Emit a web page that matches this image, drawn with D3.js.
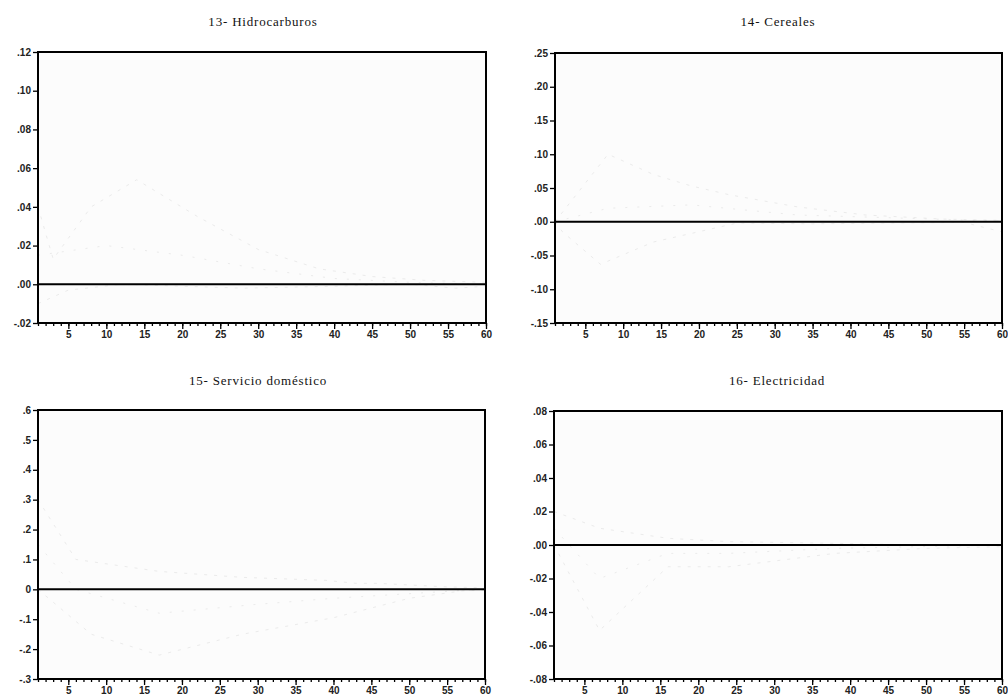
<!DOCTYPE html>
<html>
<head>
<meta charset="utf-8">
<script src="https://cdn.jsdelivr.net/npm/d3@7"></script>
<style>
  body { margin: 0; background: #fff; }
  svg { display: block; }
  .title { font-family: "Liberation Serif", "DejaVu Serif", serif; font-size: 13px; letter-spacing: 0.8px; fill: #111; }
  .axis text { font-family: "Liberation Sans", "DejaVu Sans", sans-serif; font-size: 10px; font-weight: bold; fill: #222; }
  .axis path { display: none; }
  .axis line { stroke: #000; stroke-width: 1.3; }
</style>
</head>
<body>
<svg id="chart" width="1008" height="700"></svg>
<script>
"use strict";

/* ── Data ────────────────────────────────────────────────── */
const titles = ["13- Hidrocarburos", "14- Cereales", "15- Servicio doméstico", "16- Electricidad"];

const xTicksMajor = [5, 10, 15, 20, 25, 30, 35, 40, 45, 50, 55, 60];

// y tick values / labels per panel
const yTicks13 = [0.12, 0.10, 0.08, 0.06, 0.04, 0.02, 0.00, -0.02];
const yLabels13 = [".12", ".10", ".08", ".06", ".04", ".02", ".00", "-.02"];
const yTicks14 = [0.25, 0.20, 0.15, 0.10, 0.05, 0.00, -0.05, -0.10, -0.15];
const yLabels14 = [".25", ".20", ".15", ".10", ".05", ".00", "-.05", "-.10", "-.15"];
const yTicks15 = [0.6, 0.5, 0.4, 0.3, 0.2, 0.1, 0, -0.1, -0.2, -0.3];
const yLabels15 = [".6", ".5", ".4", ".3", ".2", ".1", "0", "-.1", "-.2", "-.3"];
const yTicks16 = [0.08, 0.06, 0.04, 0.02, 0.00, -0.02, -0.04, -0.06, -0.08];
const yLabels16 = [".08", ".06", ".04", ".02", ".00", "-.02", "-.04", "-.06", "-.08"];

// faint traces of response and ±2 S.E. bands (barely visible in the scan)
const periods13Up = [1, 3, 8, 14, 22, 30, 38, 45, 52, 60];
const values13Up = [0.040, 0.013, 0.040, 0.054, 0.035, 0.018, 0.008, 0.004, 0.002, 0.001];
const periods13Lo = [1, 5, 12, 20, 28, 40, 50, 56, 60];
const values13Lo = [-0.010, -0.003, 0.000, -0.001, -0.002, -0.001, 0.000, -0.002, -0.001];
const periods13Mid = [1, 10, 20, 30, 40, 50, 60];
const values13Mid = [0.015, 0.020, 0.015, 0.008, 0.003, 0.001, 0.000];

const periods14Up = [1, 8, 14, 19, 24, 33, 42, 52, 60];
const values14Up = [0.000, 0.100, 0.070, 0.053, 0.040, 0.022, 0.010, 0.004, 0.002];
const periods14Lo = [1, 2, 7, 14, 25, 35, 45, 55, 60];
const values14Lo = [0.000, -0.015, -0.063, -0.030, -0.002, -0.003, -0.002, -0.001, -0.015];
const periods14Mid = [1, 8, 19, 33, 60];
const values14Mid = [0.000, 0.020, 0.025, 0.010, 0.001];

const periods15Up = [1, 6, 17, 28, 39, 43, 46, 55, 60];
const values15Up = [0.300, 0.100, 0.060, 0.040, 0.030, 0.020, 0.020, 0.008, 0.005];
const periods15Lo = [1, 8, 17, 28, 40, 50, 57, 60];
const values15Lo = [0.000, -0.150, -0.220, -0.150, -0.095, -0.030, -0.005, -0.003];
const periods15Mid = [1, 6, 17, 30, 40, 60];
const values15Mid = [0.150, 0.000, -0.080, -0.050, -0.030, 0.001];

const periods16Up = [1, 7, 16, 24, 38, 50, 60];
const values16Up = [0.020, 0.010, 0.004, 0.002, 0.001, 0.000, 0.000];
const periods16Lo = [1, 7, 16, 24, 38, 50, 60];
const values16Lo = [0.000, -0.051, -0.013, -0.013, -0.005, -0.002, -0.001];
const periods16Mid = [1, 7, 16, 24, 38, 60];
const values16Mid = [0.010, -0.020, -0.005, -0.005, -0.002, 0.000];

/* ── Panel layout ──────────────────────────────────────────── */
const panels = [
  { title: titles[0], x0: 38,  x1: 486,  y0: 52,  y1: 323, tx: 263, ty: 26,
    ticks: yTicks13, labels: yLabels13,
    series: [[periods13Up, values13Up], [periods13Lo, values13Lo], [periods13Mid, values13Mid]] },
  { title: titles[1], x0: 555, x1: 1002, y0: 53,  y1: 323, tx: 778, ty: 26,
    ticks: yTicks14, labels: yLabels14,
    series: [[periods14Up, values14Up], [periods14Lo, values14Lo], [periods14Mid, values14Mid]] },
  { title: titles[2], x0: 38,  x1: 485,  y0: 410, y1: 679, tx: 258, ty: 385,
    ticks: yTicks15, labels: yLabels15,
    series: [[periods15Up, values15Up], [periods15Lo, values15Lo], [periods15Mid, values15Mid]] },
  { title: titles[3], x0: 554, x1: 1002, y0: 411, y1: 679, tx: 777, ty: 385,
    ticks: yTicks16, labels: yLabels16,
    series: [[periods16Up, values16Up], [periods16Lo, values16Lo], [periods16Mid, values16Mid]] },
];

const svg = d3.select("#chart");
const allPeriods = d3.range(1, 61);

panels.forEach((p) => {
  const g = svg.append("g");
  const x = d3.scaleLinear().domain([1, 60]).range([p.x0, p.x1]);
  const y = d3.scaleLinear().domain([d3.min(p.ticks), d3.max(p.ticks)]).range([p.y1, p.y0]);

  /* title */
  g.append("text").attr("class", "title")
    .attr("x", p.tx).attr("y", p.ty)
    .attr("text-anchor", "middle")
    .text(p.title);

  /* faint grey plot shading like the scan */
  g.append("rect")
    .attr("x", p.x0).attr("y", p.y0)
    .attr("width", p.x1 - p.x0).attr("height", p.y1 - p.y0)
    .attr("fill", "#fcfcfc");

  /* washed-out series */
  const line = d3.line().x((d) => x(d[0])).y((d) => y(d[1]));
  p.series.forEach((s, i) => {
    const pts = s[0].map((t, k) => [t, s[1][k]]);
    g.append("path")
      .attr("d", line(pts))
      .attr("fill", "none")
      .attr("stroke", "#ebebeb")
      .attr("stroke-width", 1)
      .attr("stroke-dasharray", i < 2 ? "3,7" : "2,10");
  });

  /* zero line */
  g.append("line")
    .attr("x1", p.x0).attr("x2", p.x1)
    .attr("y1", y(0)).attr("y2", y(0))
    .attr("stroke", "#000").attr("stroke-width", 2);

  /* y axis */
  g.append("g").attr("class", "axis")
    .attr("transform", `translate(${p.x0},0)`)
    .call(d3.axisLeft(y).tickValues(p.ticks).tickSize(5).tickPadding(2)
      .tickFormat((d, i) => p.labels[i]));

  /* x axis: minor ticks each period, labelled major ticks */
  g.append("g").attr("class", "axis")
    .attr("transform", `translate(0,${p.y1})`)
    .call(d3.axisBottom(x).tickValues(allPeriods).tickSize(3).tickFormat(""));
  g.append("g").attr("class", "axis")
    .attr("transform", `translate(0,${p.y1})`)
    .call(d3.axisBottom(x).tickValues(xTicksMajor).tickSize(6).tickPadding(2)
      .tickFormat(d3.format("d")));

  /* frame */
  g.append("rect")
    .attr("x", p.x0).attr("y", p.y0)
    .attr("width", p.x1 - p.x0).attr("height", p.y1 - p.y0)
    .attr("fill", "none").attr("stroke", "#000").attr("stroke-width", 2);
});
</script>
</body>
</html>
